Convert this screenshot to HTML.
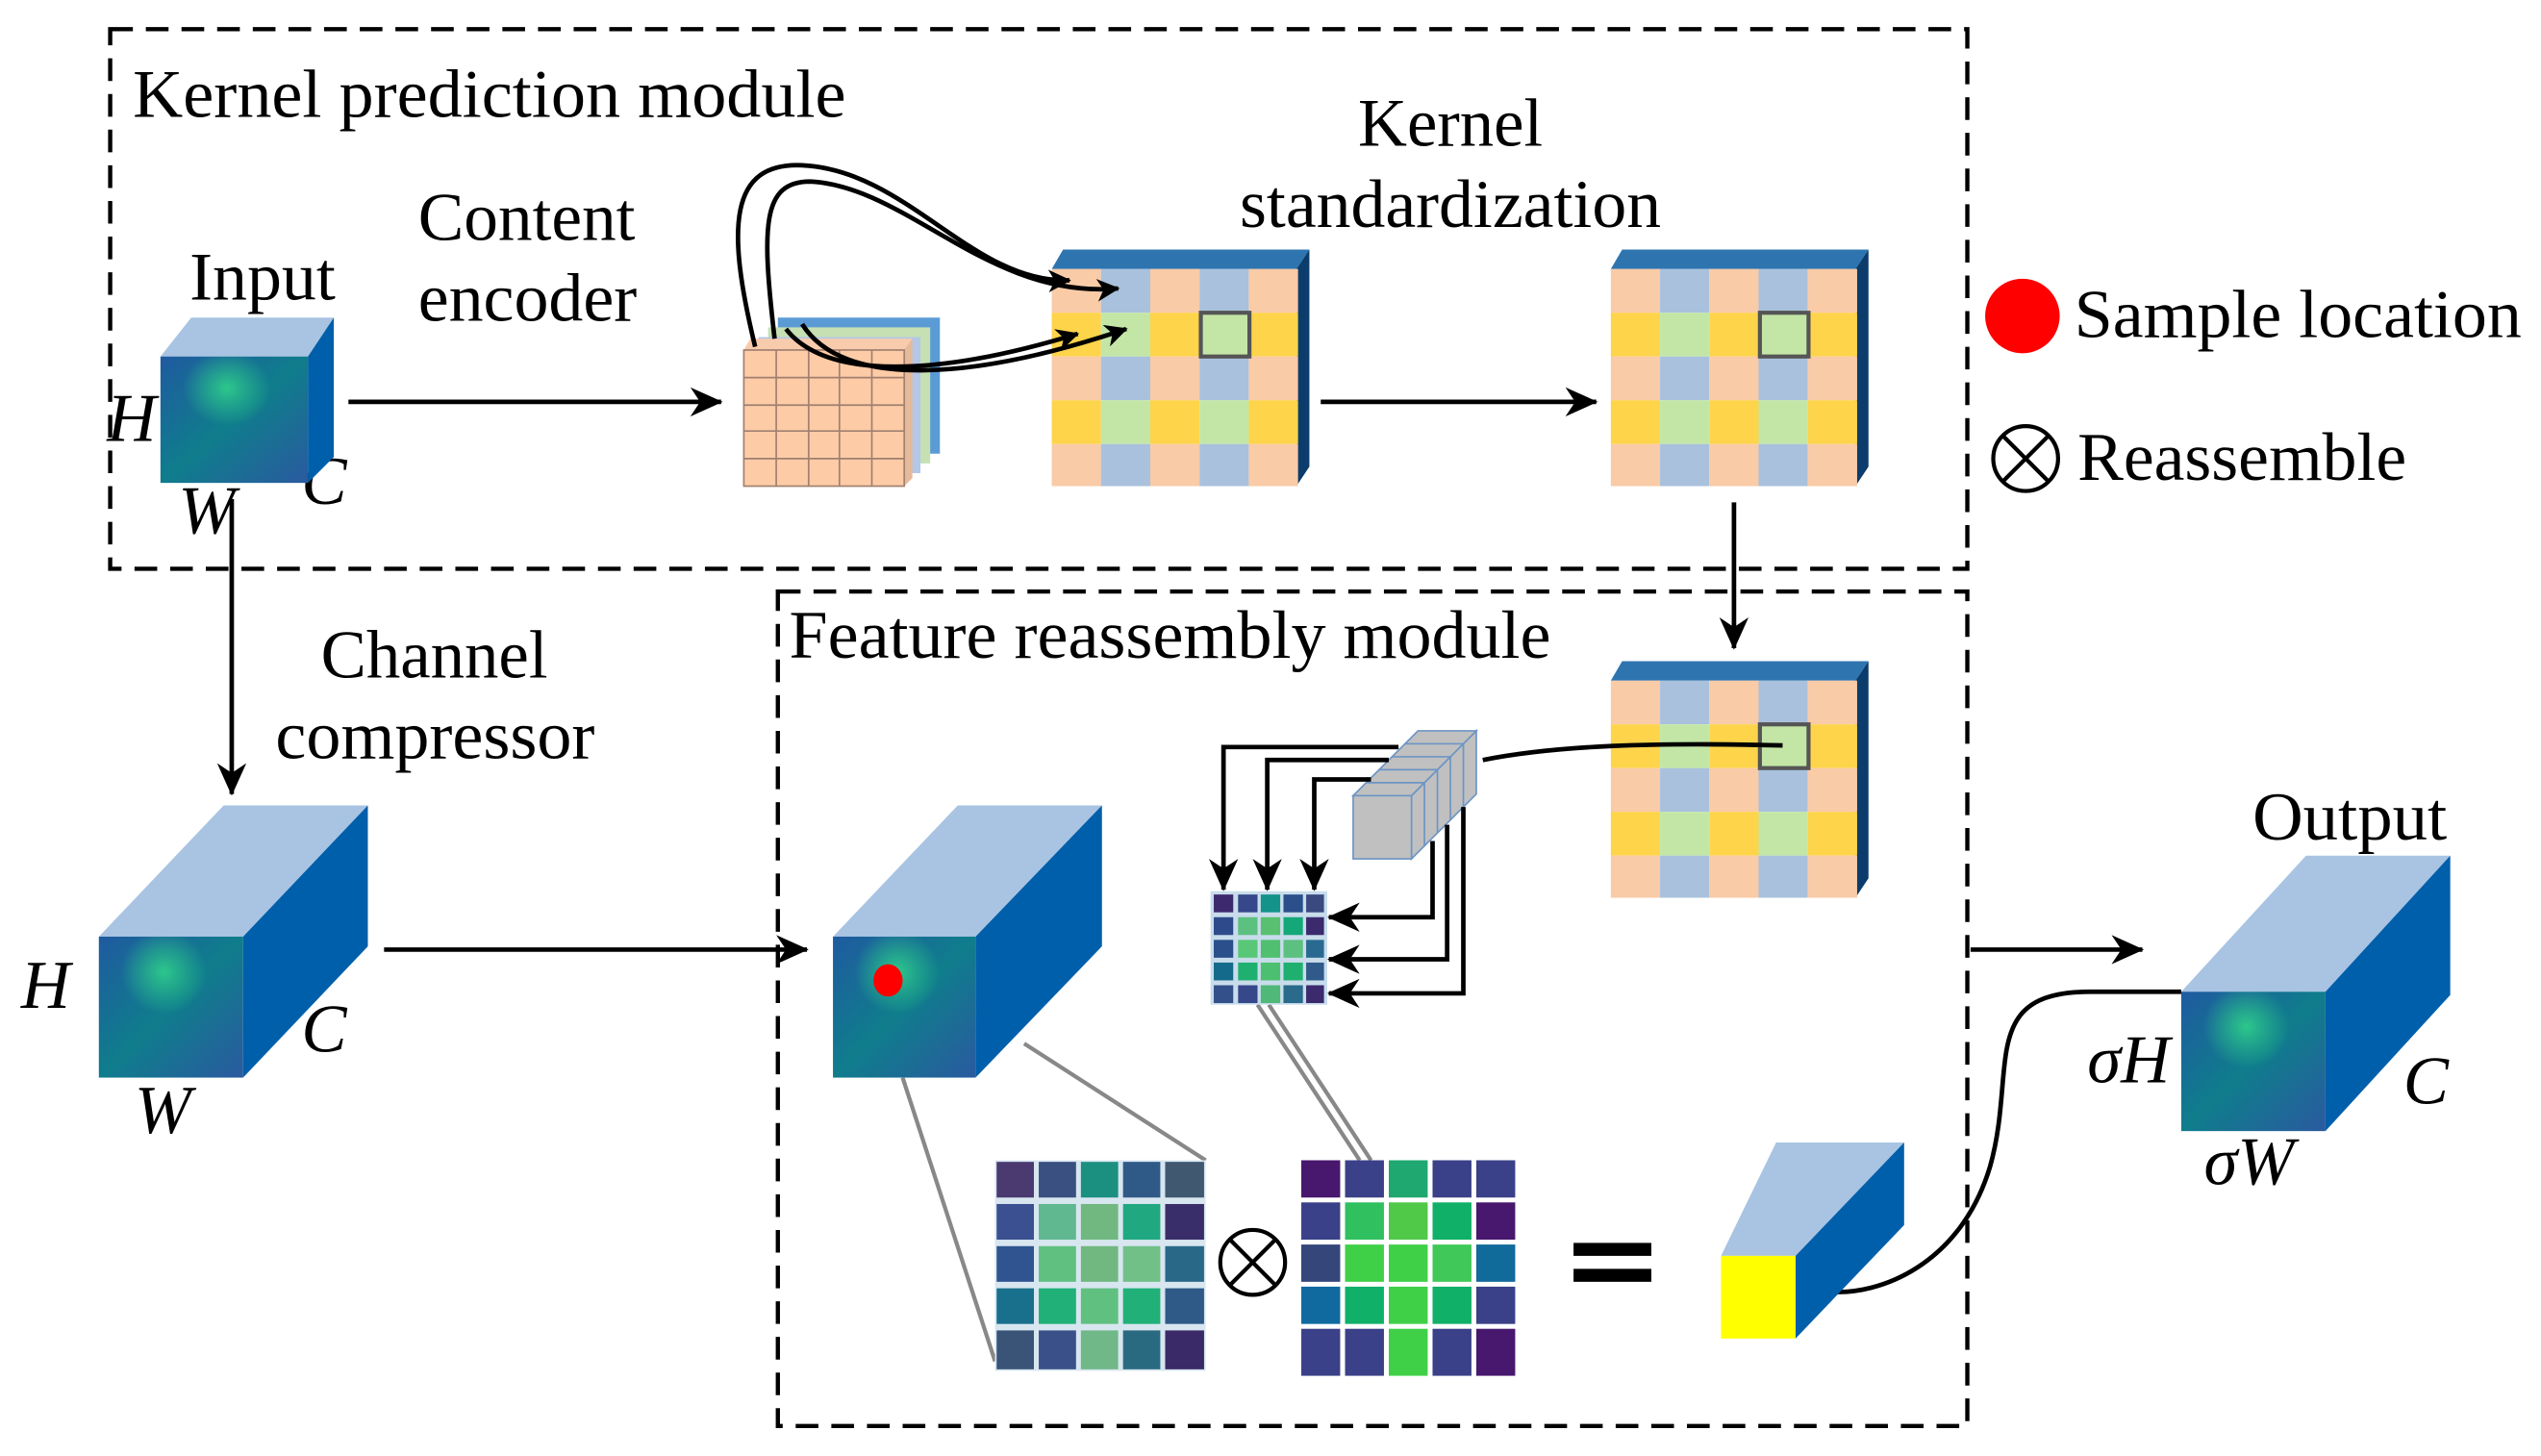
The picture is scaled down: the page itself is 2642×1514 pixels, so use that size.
<!DOCTYPE html>
<html><head><meta charset="utf-8"><style>html,body{margin:0;padding:0;background:#fff}svg{display:block}</style></head>
<body>
<svg width="2642" height="1514" viewBox="0 0 1568 898.5" preserveAspectRatio="none" xmlns="http://www.w3.org/2000/svg" font-family="Liberation Serif, serif">
<defs>
<linearGradient id="fm" x1="0" y1="0" x2="1" y2="1"><stop offset="0" stop-color="#1f5aa0"/><stop offset="0.5" stop-color="#0f7d8c"/><stop offset="1" stop-color="#2a5aa0"/></linearGradient>
<radialGradient id="gl" cx="0.45" cy="0.25" r="0.3"><stop offset="0" stop-color="#2fd08a" stop-opacity="0.9"/><stop offset="1" stop-color="#2fd08a" stop-opacity="0"/></radialGradient>
<marker id="ah" markerWidth="14" markerHeight="14" refX="13" refY="7" orient="auto" markerUnits="userSpaceOnUse" viewBox="0 0 14 14"><path d="M0,0 L14,7 L0,14 L4,7 Z" fill="#000"/></marker>
<marker id="ah2" markerWidth="20" markerHeight="18" refX="19" refY="9" orient="auto" markerUnits="userSpaceOnUse" viewBox="0 0 20 18"><path d="M0,0 L20,9 L0,18 L6,9 Z" fill="#000"/></marker>
</defs>
<g fill="none" stroke="#000" stroke-width="2.6" stroke-dasharray="14,8">
<rect x="68" y="18" width="1146" height="333"/>
<rect x="480" y="365" width="734" height="515"/>
</g>
<g font-size="42" fill="#000" lengthAdjust="spacingAndGlyphs">
<text x="82" y="72" textLength="440" lengthAdjust="spacingAndGlyphs">Kernel prediction module</text>
<text x="487" y="406" textLength="470" lengthAdjust="spacingAndGlyphs">Feature reassembly module</text>
<text x="117" y="185" textLength="90" lengthAdjust="spacingAndGlyphs">Input</text>
<text x="258" y="148" textLength="134" lengthAdjust="spacingAndGlyphs">Content</text>
<text x="258" y="198" textLength="135" lengthAdjust="spacingAndGlyphs">encoder</text>
<text x="838" y="90" textLength="114" lengthAdjust="spacingAndGlyphs">Kernel</text>
<text x="765" y="140" textLength="260" lengthAdjust="spacingAndGlyphs">standardization</text>
<text x="198" y="418" textLength="140" lengthAdjust="spacingAndGlyphs">Channel</text>
<text x="170" y="468" textLength="197" lengthAdjust="spacingAndGlyphs">compressor</text>
<text x="1390" y="518" textLength="120" lengthAdjust="spacingAndGlyphs">Output</text>
<text x="1280" y="208" textLength="276" lengthAdjust="spacingAndGlyphs">Sample location</text>
<text x="1282" y="296" textLength="203" lengthAdjust="spacingAndGlyphs">Reassemble</text>
</g>
<g font-size="42" font-style="italic" fill="#000">
<text x="66" y="272">H</text><text x="186" y="311">C</text><text x="110" y="329">W</text>
<text x="13" y="622">H</text><text x="186" y="649">C</text><text x="83" y="699">W</text>
<text x="1288" y="668">σH</text><text x="1483" y="681">C</text><text x="1360" y="731">σW</text>
</g>
<circle cx="1248" cy="195" r="23" fill="#f00"/>
<circle cx="1250" cy="283" r="20" fill="none" stroke="#000" stroke-width="2.5"/>
<path d="M1236,269 L1264,297 M1264,269 L1236,297" stroke="#000" stroke-width="2.5"/>
<polygon points="99,220 118,196 206,196 190,220" fill="#a9c4e2"/>
<polygon points="190,220 206,196 206,282 190,298" fill="#005fab"/>
<rect x="99" y="220" width="91" height="78" fill="url(#fm)"/><rect x="99" y="220" width="91" height="78" fill="url(#gl)"/>
<g stroke="#000" stroke-width="2.8" fill="none">
<line x1="215" y1="248" x2="445" y2="248" marker-end="url(#ah2)"/>
<line x1="815" y1="248" x2="985" y2="248" marker-end="url(#ah2)"/>
<line x1="1070" y1="310" x2="1070" y2="400" marker-end="url(#ah2)"/>
<line x1="143" y1="308" x2="143" y2="490" marker-end="url(#ah2)"/>
<line x1="237" y1="586" x2="498" y2="586" marker-end="url(#ah2)"/>
<line x1="1216" y1="586" x2="1322" y2="586" marker-end="url(#ah2)"/>
</g>
<polygon points="480,196 580,196 580,280 480,280" fill="#5b9bd5"/>
<polygon points="474,202 574,202 574,286 474,286" fill="#c6e0b4"/>
<polygon points="468,208 568,208 568,292 468,292" fill="#b4c7e7"/>
<polygon points="459,216 463,209 563,209 558,216" fill="#f8cbad"/>
<polygon points="558,216 563,209 563,295 558,300" fill="#e6b99a"/>
<rect x="459" y="216" width="99" height="84" fill="#fdcba6" stroke="#a08070" stroke-width="1"/>
<g stroke="#a08070" stroke-width="1"><line x1="479" y1="216" x2="479" y2="300"/><line x1="499" y1="216" x2="499" y2="300"/><line x1="518" y1="216" x2="518" y2="300"/><line x1="538" y1="216" x2="538" y2="300"/>
<line x1="459" y1="233" x2="558" y2="233"/><line x1="459" y1="250" x2="558" y2="250"/><line x1="459" y1="266" x2="558" y2="266"/><line x1="459" y1="283" x2="558" y2="283"/></g>
<g id="kg">
<polygon points="649,166 656,154 808,154 800,166" fill="#2e75b0"/>
<polygon points="800,166 808,154 808,288 800,300" fill="#0b3c6b"/>
<rect x="649" y="166" width="30.4" height="27" fill="#f9cba7"/><rect x="679.4" y="166" width="30.4" height="27" fill="#a9c1dc"/><rect x="709.8" y="166" width="30.4" height="27" fill="#f9cba7"/><rect x="740.2" y="166" width="30.4" height="27" fill="#a9c1dc"/><rect x="770.6" y="166" width="30.4" height="27" fill="#f9cba7"/>
<rect x="649" y="193" width="30.4" height="27" fill="#fdd44a"/><rect x="679.4" y="193" width="30.4" height="27" fill="#c3e6a6"/><rect x="709.8" y="193" width="30.4" height="27" fill="#fdd44a"/><rect x="740.2" y="193" width="30.4" height="27" fill="#c3e6a6"/><rect x="770.6" y="193" width="30.4" height="27" fill="#fdd44a"/>
<rect x="649" y="220" width="30.4" height="27" fill="#f9cba7"/><rect x="679.4" y="220" width="30.4" height="27" fill="#a9c1dc"/><rect x="709.8" y="220" width="30.4" height="27" fill="#f9cba7"/><rect x="740.2" y="220" width="30.4" height="27" fill="#a9c1dc"/><rect x="770.6" y="220" width="30.4" height="27" fill="#f9cba7"/>
<rect x="649" y="247" width="30.4" height="27" fill="#fdd44a"/><rect x="679.4" y="247" width="30.4" height="27" fill="#c3e6a6"/><rect x="709.8" y="247" width="30.4" height="27" fill="#fdd44a"/><rect x="740.2" y="247" width="30.4" height="27" fill="#c3e6a6"/><rect x="770.6" y="247" width="30.4" height="27" fill="#fdd44a"/>
<rect x="649" y="274" width="30.4" height="26" fill="#f9cba7"/><rect x="679.4" y="274" width="30.4" height="26" fill="#a9c1dc"/><rect x="709.8" y="274" width="30.4" height="26" fill="#f9cba7"/><rect x="740.2" y="274" width="30.4" height="26" fill="#a9c1dc"/><rect x="770.6" y="274" width="30.4" height="26" fill="#f9cba7"/>
<rect x="741" y="193" width="30" height="27" fill="none" stroke="#555" stroke-width="2.5"/>
</g>
<use href="#kg" transform="translate(345,0)"/>
<use href="#kg" transform="translate(345,254)"/>
<g stroke="#000" stroke-width="2.8" fill="none">
<path d="M466,214 C448,140 450,100 495,102 C560,105 600,175 660,173" marker-end="url(#ah)"/>
<path d="M478,209 C470,140 470,112 500,112 C560,115 610,185 690,178" marker-end="url(#ah)"/>
<path d="M485,203 C510,235 580,232 665,206" marker-end="url(#ah)"/>
<path d="M495,200 C520,240 600,235 695,203" marker-end="url(#ah)"/>
</g>
<polygon points="61,578 138,497 227,497 150,578" fill="#a9c4e2"/>
<polygon points="150,578 227,497 227,584 150,665" fill="#005fab"/>
<rect x="61" y="578" width="89" height="87" fill="url(#fm)"/><rect x="61" y="578" width="89" height="87" fill="url(#gl)"/>
<polygon points="514,578 591,497 680,497 602,578" fill="#a9c4e2"/>
<polygon points="602,578 680,497 680,584 602,665" fill="#005fab"/>
<rect x="514" y="578" width="88" height="87" fill="url(#fm)"/><rect x="514" y="578" width="88" height="87" fill="url(#gl)"/>
<ellipse cx="548" cy="605" rx="9" ry="10" fill="#f00"/>
<g stroke="#888" stroke-width="2.5" fill="none">
<line x1="557" y1="665" x2="614" y2="840"/><line x1="632" y1="644" x2="744" y2="716"/>
<line x1="776" y1="620" x2="839" y2="716"/><line x1="783" y1="620" x2="846" y2="716"/>
</g>
<polygon points="1346,612 1423,528 1512,528 1435,612" fill="#a9c4e2"/>
<polygon points="1435,612 1512,528 1512,614 1435,698" fill="#005fab"/>
<rect x="1346" y="612" width="89" height="86" fill="url(#fm)"/><rect x="1346" y="612" width="89" height="86" fill="url(#gl)"/>
<g stroke="#6d95c4" stroke-width="1" fill="#c0c0c0">
<polygon points="871,491 911,451 911,490 871,530"/>
<polygon points="835,491 875,451 911,451 871,491"/>
<rect x="835" y="491" width="36" height="39"/>
<g fill="none"><line x1="843" y1="483" x2="879" y2="483"/><line x1="851" y1="475" x2="887" y2="475"/><line x1="859" y1="467" x2="895" y2="467"/><line x1="867" y1="459" x2="903" y2="459"/>
<line x1="879" y1="483" x2="879" y2="522"/><line x1="887" y1="475" x2="887" y2="514"/><line x1="895" y1="467" x2="895" y2="506"/><line x1="903" y1="459" x2="903" y2="498"/></g>
</g>
<rect x="747" y="550" width="72" height="70" fill="#c8dceb"/>
<g>
<rect x="749" y="552" width="12" height="11" fill="#3d2a6e"/><rect x="764" y="552" width="12" height="11" fill="#36478a"/><rect x="778" y="552" width="12" height="11" fill="#13938a"/><rect x="792" y="552" width="12" height="11" fill="#2b4f8a"/><rect x="806" y="552" width="11" height="11" fill="#3a4a80"/>
<rect x="749" y="566" width="12" height="11" fill="#2f4a8a"/><rect x="764" y="566" width="12" height="11" fill="#5cc080"/><rect x="778" y="566" width="12" height="11" fill="#58c070"/><rect x="792" y="566" width="12" height="11" fill="#14a878"/><rect x="806" y="566" width="11" height="11" fill="#3b2a6e"/>
<rect x="749" y="580" width="12" height="11" fill="#2a4f8a"/><rect x="764" y="580" width="12" height="11" fill="#58c878"/><rect x="778" y="580" width="12" height="11" fill="#50c070"/><rect x="792" y="580" width="12" height="11" fill="#5cc080"/><rect x="806" y="580" width="11" height="11" fill="#2a6a90"/>
<rect x="749" y="594" width="12" height="11" fill="#146a8a"/><rect x="764" y="594" width="12" height="11" fill="#1fb070"/><rect x="778" y="594" width="12" height="11" fill="#4cc070"/><rect x="792" y="594" width="12" height="11" fill="#1fb070"/><rect x="806" y="594" width="11" height="11" fill="#2f5a8a"/>
<rect x="749" y="608" width="12" height="11" fill="#34508a"/><rect x="764" y="608" width="12" height="11" fill="#36478a"/><rect x="778" y="608" width="12" height="11" fill="#50b878"/><rect x="792" y="608" width="12" height="11" fill="#2a6a8a"/><rect x="806" y="608" width="11" height="11" fill="#3b2a6e"/>
</g>
<g stroke="#000" stroke-width="2.8" fill="none">
<polyline points="863,461 755,461 755,549" marker-end="url(#ah2)"/>
<polyline points="857,469 782,469 782,549" marker-end="url(#ah2)"/>
<polyline points="846,481 811,481 811,549" marker-end="url(#ah2)"/>
<polyline points="884,519 884,566 820,566" marker-end="url(#ah2)"/>
<polyline points="893,509 893,592 820,592" marker-end="url(#ah2)"/>
<polyline points="903,498 903,613 820,613" marker-end="url(#ah2)"/>
<path d="M915,469 C960,460 1020,458 1100,460"/>
<path d="M1128,797 C1160,800 1210,780 1228,720 C1245,660 1220,612 1290,612 L1346,612"/>
</g>
<rect x="614" y="716" width="130" height="130" fill="#d8e6f0"/>
<g>
<rect x="615" y="717" width="23" height="22" fill="#4a3a70"/><rect x="641" y="717" width="23" height="22" fill="#3a5080"/><rect x="667" y="717" width="23" height="22" fill="#1c9080"/><rect x="693" y="717" width="23" height="22" fill="#2f5a88"/><rect x="719" y="717" width="24" height="22" fill="#405870"/>
<rect x="615" y="743" width="23" height="22" fill="#3a5090"/><rect x="641" y="743" width="23" height="22" fill="#60b890"/><rect x="667" y="743" width="23" height="22" fill="#70b880"/><rect x="693" y="743" width="23" height="22" fill="#20a880"/><rect x="719" y="743" width="24" height="22" fill="#3a2e6a"/>
<rect x="615" y="769" width="23" height="22" fill="#2f5490"/><rect x="641" y="769" width="23" height="22" fill="#60c080"/><rect x="667" y="769" width="23" height="22" fill="#70b880"/><rect x="693" y="769" width="23" height="22" fill="#70c088"/><rect x="719" y="769" width="24" height="22" fill="#2a6888"/>
<rect x="615" y="795" width="23" height="22" fill="#18708c"/><rect x="641" y="795" width="23" height="22" fill="#20b078"/><rect x="667" y="795" width="23" height="22" fill="#60c080"/><rect x="693" y="795" width="23" height="22" fill="#20b078"/><rect x="719" y="795" width="24" height="22" fill="#2f5a88"/>
<rect x="615" y="821" width="23" height="24" fill="#3a5478"/><rect x="641" y="821" width="23" height="24" fill="#3a5088"/><rect x="667" y="821" width="23" height="24" fill="#70b888"/><rect x="693" y="821" width="23" height="24" fill="#2a6a80"/><rect x="719" y="821" width="24" height="24" fill="#3a2a68"/>
</g>
<circle cx="773" cy="779" r="20" fill="none" stroke="#000" stroke-width="2.5"/>
<path d="M759,765 L787,793 M787,765 L759,793" stroke="#000" stroke-width="2.5"/>
<g>
<rect x="803" y="716" width="24" height="23" fill="#47186e"/><rect x="830" y="716" width="24" height="23" fill="#3a4188"/><rect x="857" y="716" width="24" height="23" fill="#1fa870"/><rect x="884" y="716" width="24" height="23" fill="#3a4188"/><rect x="911" y="716" width="24" height="23" fill="#3a4188"/>
<rect x="803" y="742" width="24" height="23" fill="#3a4188"/><rect x="830" y="742" width="24" height="23" fill="#30c060"/><rect x="857" y="742" width="24" height="23" fill="#50c848"/><rect x="884" y="742" width="24" height="23" fill="#10b068"/><rect x="911" y="742" width="24" height="23" fill="#47186e"/>
<rect x="803" y="768" width="24" height="23" fill="#34467a"/><rect x="830" y="768" width="24" height="23" fill="#40d048"/><rect x="857" y="768" width="24" height="23" fill="#40d048"/><rect x="884" y="768" width="24" height="23" fill="#40c858"/><rect x="911" y="768" width="24" height="23" fill="#106a9a"/>
<rect x="803" y="794" width="24" height="23" fill="#106aa0"/><rect x="830" y="794" width="24" height="23" fill="#10b068"/><rect x="857" y="794" width="24" height="23" fill="#40d048"/><rect x="884" y="794" width="24" height="23" fill="#10b068"/><rect x="911" y="794" width="24" height="23" fill="#3a4188"/>
<rect x="803" y="820" width="24" height="29" fill="#3a4188"/><rect x="830" y="820" width="24" height="29" fill="#3a4188"/><rect x="857" y="820" width="24" height="29" fill="#40d048"/><rect x="884" y="820" width="24" height="29" fill="#3a4188"/><rect x="911" y="820" width="24" height="29" fill="#47186e"/>
</g>
<rect x="971" y="767" width="48" height="8" fill="#000"/><rect x="971" y="783" width="48" height="8" fill="#000"/>
<polygon points="1062,775 1096,705 1175,705 1108,775" fill="#a9c4e2"/>
<polygon points="1108,775 1175,705 1175,756 1108,826" fill="#005fab"/>
<rect x="1062" y="775" width="46" height="51" fill="#ffff00"/>
</svg>
</body></html>
